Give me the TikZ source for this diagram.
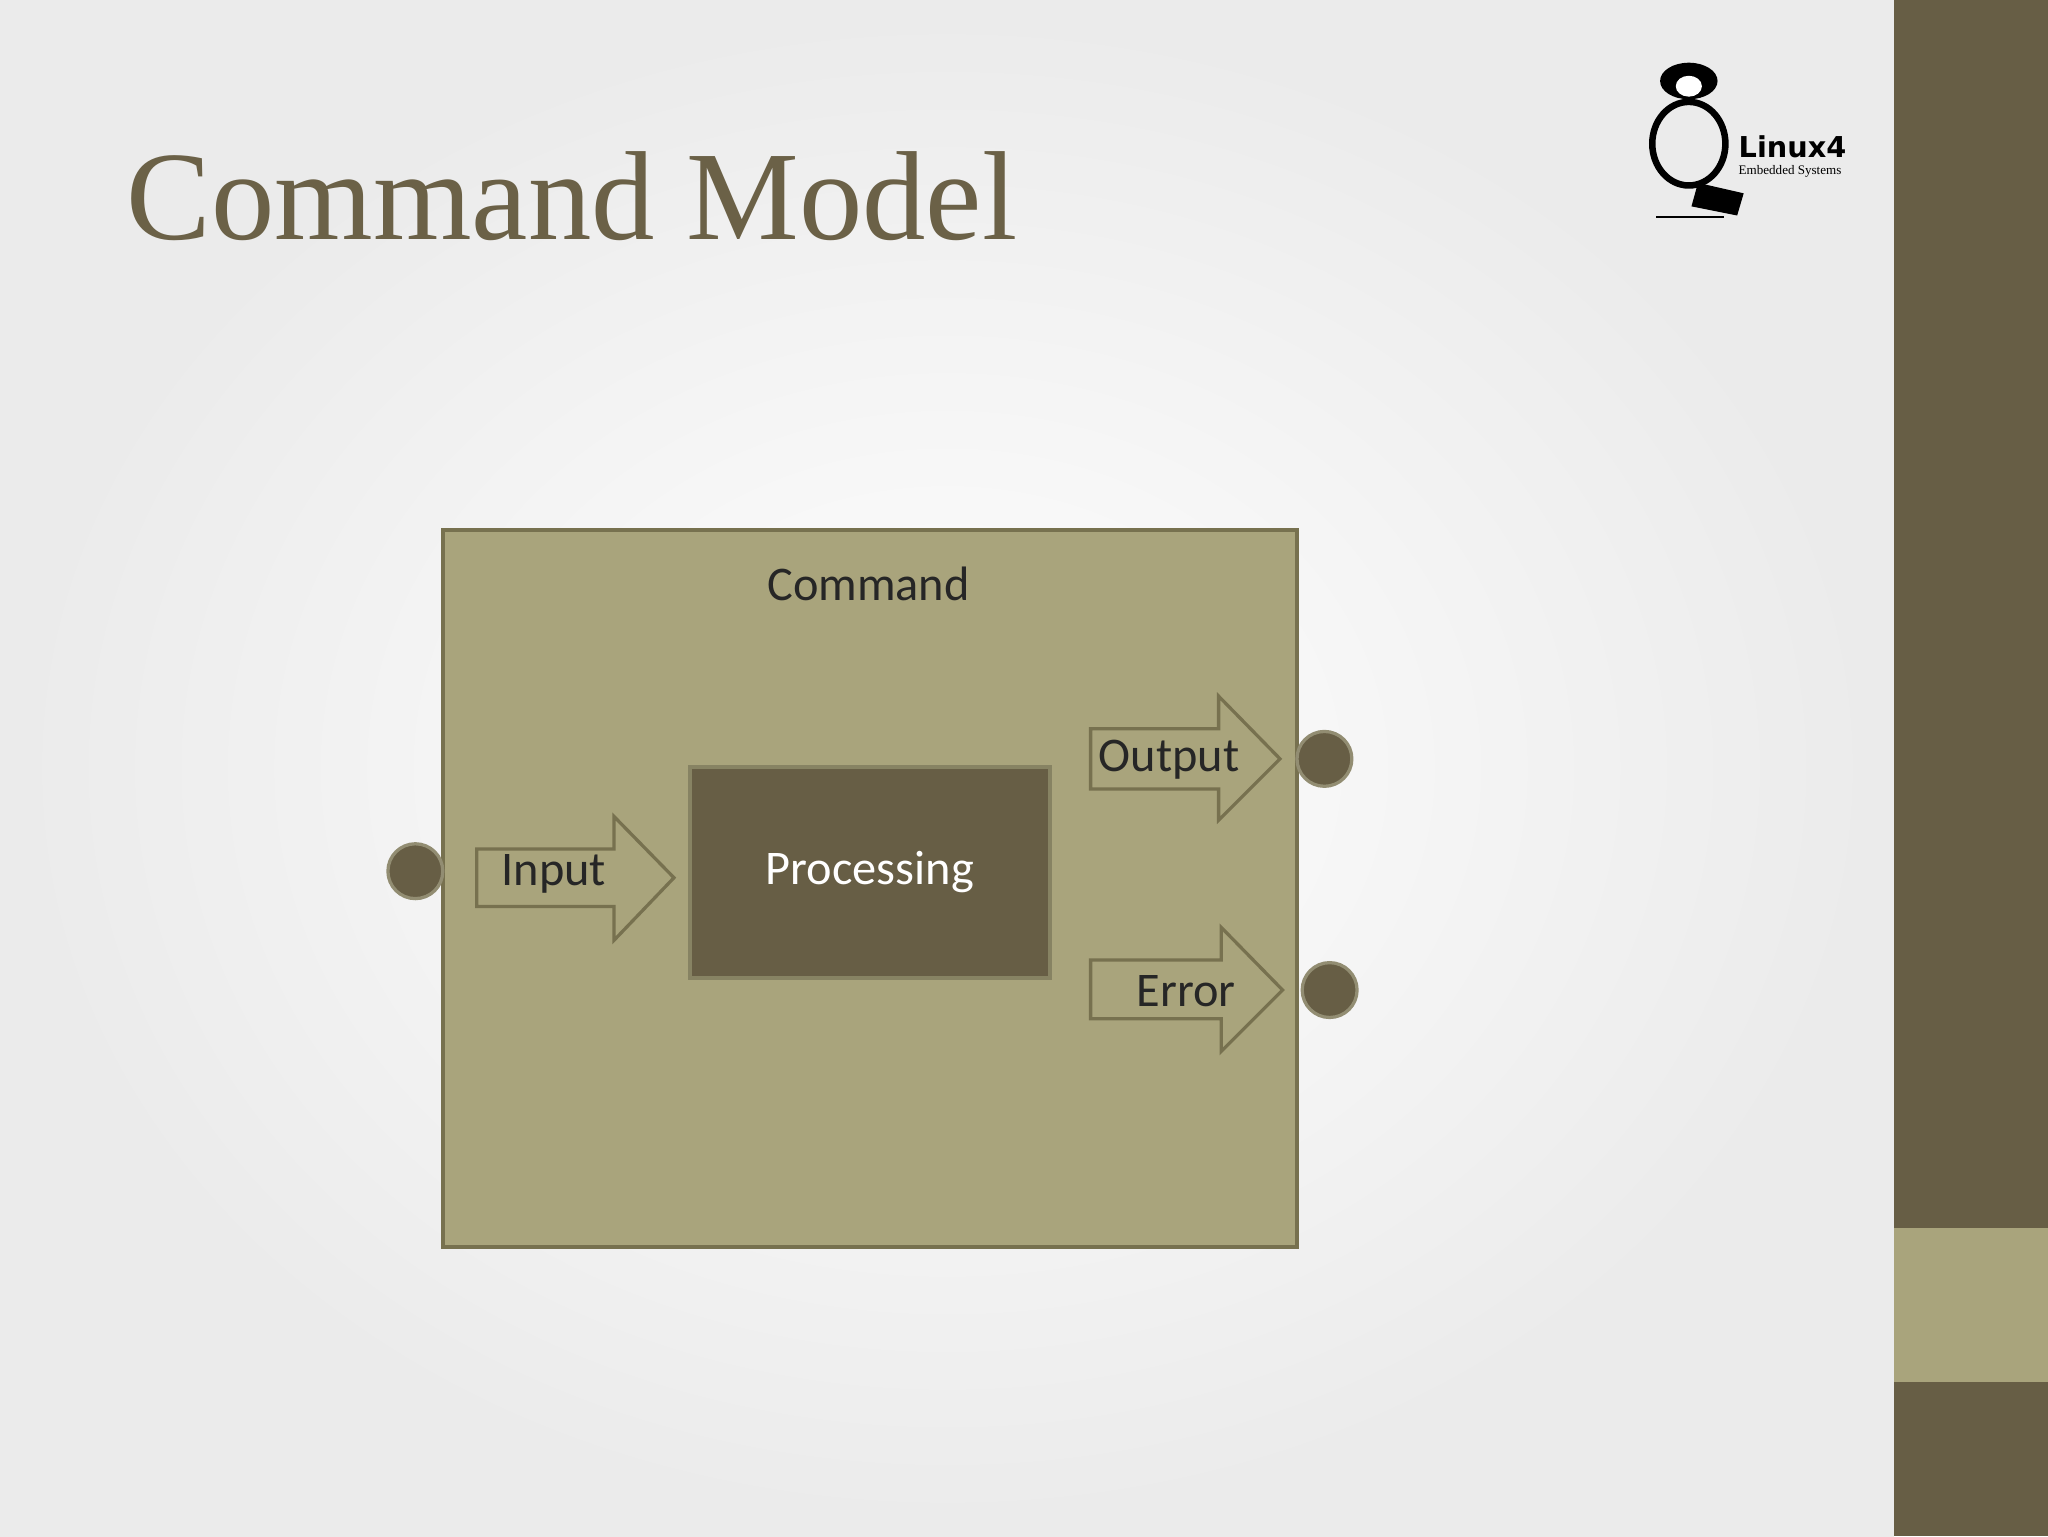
\documentclass[tikz,border=0pt]{standalone}
\usepackage{fontspec}
\setmainfont{Carlito}
\newfontfamily\titlefont{Liberation Serif}
\newfontfamily\logofont{DejaVu Sans}
\definecolor{olive}{HTML}{A9A47C}
\definecolor{dark}{HTML}{675E45}
\definecolor{edge}{HTML}{77714F}
\definecolor{titlec}{HTML}{6B6147}
\tikzset{
  arr/.style={fill=olive, draw=edge, line width=2.5pt, line join=miter},
  port/.style={circle, fill=dark, draw=edge!80!white, line width=2.5pt, minimum size=42pt, inner sep=0pt},
  lbl/.style={font=\fontsize{37}{40}\selectfont, text=black!85, inner sep=0pt}
}
\begin{document}
\begin{tikzpicture}[x=1pt,y=-1pt]
\useasboundingbox (0,0) rectangle (1568,1176);
\shade[inner color=white, outer color=black!8] (0,0) rectangle (1450,1176);
\fill[dark] (1450,0) rectangle (1568,1176);
\fill[olive] (1450,940) rectangle (1568,1058);
\node[anchor=base west, text=titlec, inner sep=0pt, font=\titlefont\fontsize{97}{104}\selectfont] (title) at (97,183) {Command Model};
% logo
\node[anchor=west, inner sep=0pt, font=\logofont\bfseries\fontsize{22}{24}\selectfont] (logo) at (1331,112) {Linux4};
\node[anchor=west, inner sep=0pt, font=\titlefont\fontsize{10}{11}\selectfont] (logo2) at (1331,131) {Embedded Systems};
\draw[line width=5pt] (1293,110) ellipse (28 and 32);
\fill[black] (1293,62) ellipse (22 and 14);
\fill[white] (1293,66) ellipse (10 and 8);
\fill[black] (1300,140) -- (1335,148) -- (1330,165) -- (1295,158) -- cycle;
\draw[line width=1.5pt] (1268,166) -- (1320,166);
% command box
\node[draw=edge, fill=olive, line width=3pt, minimum width=654pt, minimum height=549pt, inner sep=0pt] (cmd) at (666,680.5) {};
\node[lbl] (cmdl) at (665,447) {Command};
\node[draw=olive!80!black, fill=dark, line width=3pt, minimum width=276pt, minimum height=162pt, inner sep=0pt, text=white, font=\fontsize{37}{40}\selectfont] (proc) at (666,668) {Processing};
% arrows
\draw[arr] (365,650) -- (470,650) -- (470,625) -- (516,672) -- (470,720) -- (470,694) -- (365,694) -- cycle;
\node[lbl] (in) at (424,669) {Input};
\draw[arr] (835,558) -- (933,558) -- (933,533) -- (980,581) -- (933,628) -- (933,604) -- (835,604) -- cycle;
\node[lbl] (out) at (895,582) {Output};
\draw[arr] (835,735) -- (935,735) -- (935,710) -- (982,758) -- (935,805) -- (935,780) -- (835,780) -- cycle;
\node[lbl] (err) at (908,759) {Error};
% ports
\node[port] (pin) at (318,667) {};
\node[port] (pout) at (1014,581) {};
\node[port] (perr) at (1018,758) {};
\end{tikzpicture}
\end{document}
